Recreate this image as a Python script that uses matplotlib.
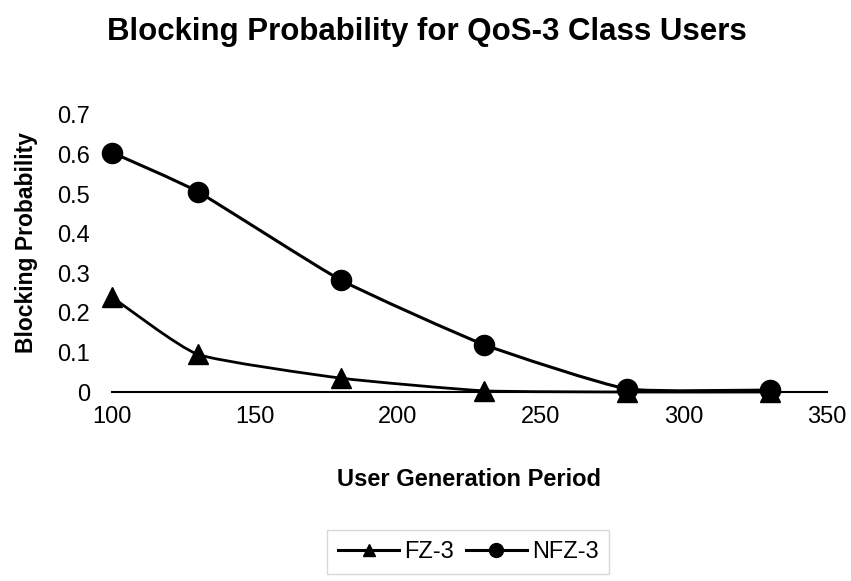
import matplotlib
matplotlib.use("Agg")
import matplotlib.pyplot as plt
from matplotlib.path import Path
from matplotlib.patches import PathPatch
import numpy as np

plt.rcParams['font.family'] = ['Liberation Sans', 'DejaVu Sans']

period = [100, 130, 180, 230, 280, 330]
fz3 = [0.24, 0.095, 0.035, 0.003, 0.0, 0.0]
nfz3 = [0.605, 0.506, 0.283, 0.12, 0.008, 0.005]
x_ticks = [100, 150, 200, 250, 300, 350]
y_ticks = [0, 0.1, 0.2, 0.3, 0.4, 0.5, 0.6, 0.7]

fig = plt.figure(figsize=(8.51, 5.81), dpi=100)
ax = fig.add_axes([0.1316, 0.3253, 0.8402, 0.4768])


def smooth_path(xs, ys, tension=0.08):
    # gently smoothed Bezier segments through the data points
    xs = np.asarray(xs, float)
    ys = np.asarray(ys, float)
    verts = [(xs[0], ys[0])]
    codes = [Path.MOVETO]
    n = len(xs)
    for i in range(n - 1):
        p0 = (xs[max(i - 1, 0)], ys[max(i - 1, 0)])
        p1 = (xs[i], ys[i])
        p2 = (xs[i + 1], ys[i + 1])
        p3 = (xs[min(i + 2, n - 1)], ys[min(i + 2, n - 1)])
        c1 = (p1[0] + (p2[0] - p0[0]) * tension, p1[1] + (p2[1] - p0[1]) * tension)
        c2 = (p2[0] - (p3[0] - p1[0]) * tension, p2[1] - (p3[1] - p1[1]) * tension)
        verts += [c1, c2, p2]
        codes += [Path.CURVE4] * 3
    return Path(verts, codes)


ax.add_patch(PathPatch(smooth_path(period, fz3), fill=False, edgecolor='black',
                       lw=2.0, clip_on=False, zorder=3))
ax.add_patch(PathPatch(smooth_path(period, nfz3), fill=False, edgecolor='black',
                       lw=2.2, clip_on=False, zorder=3))
ax.plot(period, fz3, linestyle='none', marker='^', ms=15, color='black',
        clip_on=False, zorder=4)
ax.plot(period, nfz3, linestyle='none', marker='o', ms=14.5, color='black',
        clip_on=False, zorder=5)

# legend proxies
ax.plot([], [], color='black', lw=2.2, marker='^', ms=8, label='FZ-3')
ax.plot([], [], color='black', lw=2.2, marker='o', ms=10, label='NFZ-3')

ax.set_xlim(100, 350)
ax.set_ylim(0, 0.7)
ax.set_xticks(x_ticks)
ax.set_xticklabels([str(v) for v in x_ticks])
ax.set_yticks(y_ticks)
ax.set_yticklabels(['0' if v == 0 else f'{v:.1f}' for v in y_ticks])
ax.tick_params(axis='both', length=0, labelsize=17)
ax.tick_params(axis='x', pad=10)
ax.tick_params(axis='y', pad=16)

for side in ['top', 'right', 'left']:
    ax.spines[side].set_visible(False)
ax.spines['bottom'].set_linewidth(1.5)

ax.set_xlabel('User Generation Period', fontsize=17, fontweight='bold', labelpad=29)
ax.set_ylabel('Blocking Probability', fontsize=16.5, fontweight='bold')
ax.yaxis.set_label_coords(-0.1035, 0.54)
fig.text(0.502, 0.945, 'Blocking Probability for QoS-3 Class Users',
         ha='center', va='center', fontsize=22.5, fontweight='bold')

leg = fig.legend(loc='center', bbox_to_anchor=(0.55, 0.05), ncol=2,
                 fontsize=17, frameon=True, fancybox=False, handlelength=2.6,
                 columnspacing=0.5, handletextpad=0.2, borderpad=0.45)
leg.get_frame().set_edgecolor('#d0d0d0')
leg.get_frame().set_linewidth(1.0)

fig.savefig('out.png', dpi=100)
